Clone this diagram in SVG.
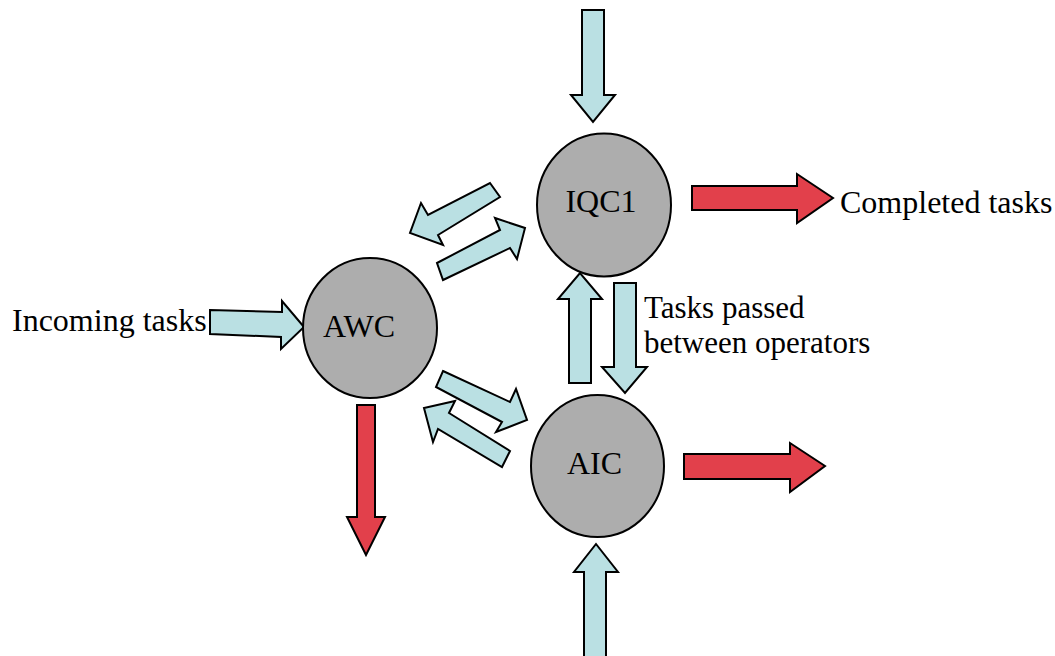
<svg xmlns="http://www.w3.org/2000/svg" width="1055" height="656" viewBox="0 0 1055 656">
<style>
.node{fill:#ADADAD;stroke:#000;stroke-width:2}
.blue{fill:#BAE0E3;stroke:#000;stroke-width:2;stroke-linejoin:miter}
.red{fill:#E2404B;stroke:#000;stroke-width:2;stroke-linejoin:miter}
text{font-family:"Liberation Serif","Times New Roman",serif;font-size:32px;fill:#000}
.small{font-size:31px}
</style>
<rect width="1055" height="656" fill="#fff"/>
<g id="connectors">
<polygon class="blue" points="582,10 604,10 604,95 615,95 593,122 571,95 582,95"/>
<polygon class="blue" points="584,660 606,660 606,572 618,572 596,544 574,572 584,572"/>
<polygon class="blue" points="569,383 591,383 591,299 602,299 580,273 558,299 569,299"/>
<polygon class="blue" points="614,283 636,283 636,367 647,367 625,393 602,367 614,367"/>
<polygon class="blue" points="490,183 500,197 438,235 443,245 410,233 421,203 428,215"/>
<polygon class="blue" points="437,263 500,230 495,218 525,228 517,259 510,248 443,280"/>
<polygon class="blue" points="443,371 510,402 516,389 527,420 496,432 502,422 436,387"/>
<polygon class="blue" points="510,451 449,413 455,401 424,408 433,442 438,429 502,467"/>
<polygon class="blue" points="210,310 282,312 282,301 304,327 281,349 281,337 210,334"/>
<polygon class="red" points="692,186 797,186 797,174 833,198 797,223 797,210 692,210"/>
<polygon class="red" points="684,454 790,454 790,443 825,466 790,492 790,479 684,479"/>
<polygon class="red" points="357,405 375,405 375,517 385,517 366,555 347,517 357,517"/>
</g>
<g id="IQC1">
<ellipse class="node" cx="604" cy="205" rx="67" ry="71.5"/>
<text x="601" y="212" text-anchor="middle">IQC1</text>
</g>
<g id="AWC">
<ellipse class="node" cx="370" cy="328" rx="67" ry="70"/>
<text x="359" y="337" text-anchor="middle">AWC</text>
</g>
<g id="AIC">
<ellipse class="node" cx="597.5" cy="466" rx="66.5" ry="71"/>
<text x="594.5" y="474" text-anchor="middle">AIC</text>
</g>
<g id="labels">
<text x="12" y="331">Incoming tasks</text>
<text x="840" y="213">Completed tasks</text>
<text class="small" x="644" y="318">Tasks passed</text>
<text class="small" x="644" y="353">between operators</text>
</g>
</svg>
